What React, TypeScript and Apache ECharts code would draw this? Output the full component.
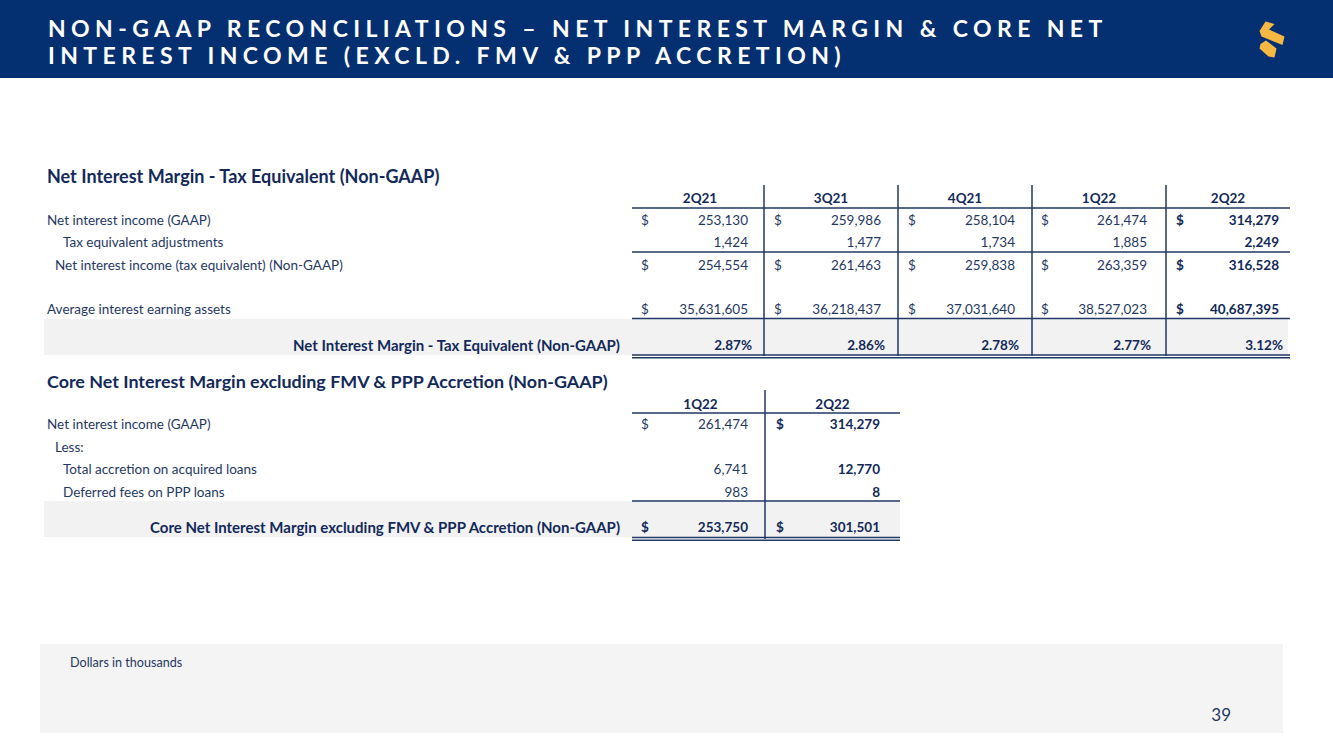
import React, { useEffect, useRef } from "react";
import * as echarts from "echarts";

const titleLines = [
  "NON-GAAP RECONCILIATIONS \u2013 NET INTEREST MARGIN & CORE NET",
  "INTEREST INCOME (EXCLD. FMV & PPP ACCRETION)",
];

const table1Title = "Net Interest Margin - Tax Equivalent (Non-GAAP)";
const quarters1 = ["2Q21", "3Q21", "4Q21", "1Q22", "2Q22"];
const netInterestIncome = [253130, 259986, 258104, 261474, 314279];
const taxEqAdj = [1424, 1477, 1734, 1885, 2249];
const netInterestIncomeTE = [254554, 261463, 259838, 263359, 316528];
const avgEarningAssets = [35631605, 36218437, 37031640, 38527023, 40687395];
const nimTE = [2.87, 2.86, 2.78, 2.77, 3.12];

const table2Title = "Core Net Interest Margin excluding FMV & PPP Accretion (Non-GAAP)";
const quarters2 = ["1Q22", "2Q22"];
const coreNII = [261474, 314279];
const accretion = [6741, 12770];
const pppFees = [983, 8];
const coreNIM = [253750, 301501];

const footnote = "Dollars in thousands";
const pageNumber = "39";

const NAVY = "#1F3864";
const DARK = "#12295A";
const BAND = "#042F70";
const GRAY = "#F2F2F2";
const FONT = "Lato, 'Open Sans', sans-serif";

const fmt = (v: number) => v.toLocaleString("en-US");

function txt(text: string, x: number, y: number, opts: any = {}) {
  const align = opts.align || "left";
  return {
    type: "text",
    x,
    y,
    silent: true,
    style: {
      text,
      fill: opts.fill || NAVY,
      fontSize: opts.size || 13.5,
      fontFamily: opts.family || FONT,
      fontWeight: opts.bold ? "bold" : "normal",
      align,
      textAlign: align,
      verticalAlign: "middle",
      textVerticalAlign: "middle",
    },
  };
}

function hline(x1: number, x2: number, y: number, w = 1.5) {
  return {
    type: "line",
    silent: true,
    shape: { x1, y1: y, x2, y2: y },
    style: { stroke: NAVY, lineWidth: w },
  };
}
function vline(x: number, y1: number, y2: number, w = 1.5) {
  return {
    type: "line",
    silent: true,
    shape: { x1: x, y1, x2: x, y2 },
    style: { stroke: NAVY, lineWidth: w },
  };
}

function buildGraphic() {
  const g: any[] = [];
  // header band
  g.push({ type: "rect", silent: true, shape: { x: 0, y: 0, width: 1333, height: 78 }, style: { fill: BAND } });
  titleLines.forEach((t, i) => {
    g.push(txt(t, 48, 28 + i * 27, { fill: "#fffffe", size: 23, bold: true, family: "Lato, sans-serif" }));
  });
  // logo
  g.push({
    type: "polygon",
    silent: true,
    shape: { points: [[1265.5, 21.5], [1274.5, 24], [1269, 29.5], [1284.5, 36.5], [1282.5, 45], [1261.5, 36.5], [1259.5, 31]] },
    style: { fill: "#F5B843" },
  });
  g.push({
    type: "polygon",
    silent: true,
    shape: { points: [[1260.5, 44], [1266, 40.5], [1276.5, 48.5], [1274.5, 57.5], [1268.5, 56.5], [1259.5, 48.5]] },
    style: { fill: "#F5B843" },
  });

  // ---------- Table 1 ----------
  const c1 = [636, 764, 898, 1032, 1166, 1290];
  const dollarX1 = [641, 774, 908, 1041, 1176];
  const rightX1 = [748, 881, 1015, 1147, 1279];

  g.push(txt(table1Title, 47, 176, { fill: DARK, size: 18, bold: true }));
  // gray band
  g.push({ type: "rect", silent: true, shape: { x: 44, y: 319, width: 1244, height: 36 }, style: { fill: GRAY } });

  quarters1.forEach((q, i) => {
    g.push(txt(q, (c1[i] + c1[i + 1]) / 2, 198, { fill: DARK, bold: true, align: "center" }));
  });
  g.push(hline(632, 1290, 208));
  g.push(hline(632, 1290, 252));
  g.push(hline(632, 1290, 318.5));
  g.push(hline(632, 1290, 355, 1.5));
  g.push(hline(632, 1290, 357.8, 1.5));
  for (let i = 1; i < 5; i++) g.push(vline(c1[i], 185, 356));

  const rows1: { label: string; lx: number; y: number; vals: number[]; dollar: boolean }[] = [
    { label: "Net interest income (GAAP)", lx: 47, y: 220, vals: netInterestIncome, dollar: true },
    { label: "Tax equivalent adjustments", lx: 63, y: 242, vals: taxEqAdj, dollar: false },
    { label: "Net interest income (tax equivalent) (Non-GAAP)", lx: 55, y: 265, vals: netInterestIncomeTE, dollar: true },
    { label: "Average interest earning assets", lx: 47, y: 309, vals: avgEarningAssets, dollar: true },
  ];
  rows1.forEach((r) => {
    g.push(txt(r.label, r.lx, r.y));
    r.vals.forEach((v, i) => {
      const bold = i === 4;
      if (r.dollar) g.push(txt("$", dollarX1[i], r.y, { bold, fill: bold ? DARK : NAVY }));
      g.push(txt(fmt(v), rightX1[i], r.y, { align: "right", bold, fill: bold ? DARK : NAVY }));
    });
  });
  g.push(txt("Net Interest Margin - Tax Equivalent (Non-GAAP)", 620, 345, { align: "right", bold: true, fill: DARK, size: 15 }));
  nimTE.forEach((v, i) => {
    g.push(txt(v.toFixed(2) + "%", rightX1[i] + 4, 345, { align: "right", bold: true, fill: DARK }));
  });

  // ---------- Table 2 ----------
  const c2 = [636, 765, 900];
  const dollarX2 = [641, 776];
  const rightX2 = [748, 880];
  g.push(txt(table2Title, 47, 381, { fill: DARK, size: 17.9, bold: true }));
  g.push({ type: "rect", silent: true, shape: { x: 44, y: 501, width: 856, height: 36 }, style: { fill: GRAY } });
  quarters2.forEach((q, i) => {
    g.push(txt(q, (c2[i] + c2[i + 1]) / 2, 404, { fill: DARK, bold: true, align: "center" }));
  });
  g.push(hline(632, 900, 413));
  g.push(hline(632, 900, 501));
  g.push(hline(632, 900, 537.5, 1.5));
  g.push(hline(632, 900, 540.3, 1.5));
  g.push(vline(765, 390, 539));

  const rows2: { label: string; lx: number; y: number; vals: number[] | null; dollar: boolean }[] = [
    { label: "Net interest income (GAAP)", lx: 47, y: 424, vals: coreNII, dollar: true },
    { label: "Less:", lx: 55, y: 447, vals: null, dollar: false },
    { label: "Total accretion on acquired loans", lx: 63, y: 469, vals: accretion, dollar: false },
    { label: "Deferred fees on PPP loans", lx: 63, y: 492, vals: pppFees, dollar: false },
  ];
  rows2.forEach((r) => {
    g.push(txt(r.label, r.lx, r.y));
    if (!r.vals) return;
    r.vals.forEach((v, i) => {
      const bold = i === 1;
      if (r.dollar) g.push(txt("$", dollarX2[i], r.y, { bold, fill: bold ? DARK : NAVY }));
      g.push(txt(fmt(v), rightX2[i], r.y, { align: "right", bold, fill: bold ? DARK : NAVY }));
    });
  });
  g.push(txt(table2Title, 620, 527, { align: "right", bold: true, fill: DARK, size: 15 }));
  coreNIM.forEach((v, i) => {
    g.push(txt("$", dollarX2[i], 527, { bold: true, fill: DARK }));
    g.push(txt(fmt(v), rightX2[i], 527, { align: "right", bold: true, fill: DARK }));
  });

  // ---------- Footer ----------
  g.push({ type: "rect", silent: true, shape: { x: 40, y: 644, width: 1243, height: 89 }, style: { fill: "#F4F4F4" } });
  g.push(txt(footnote, 70, 662, { size: 12.6 }));
  g.push(txt(pageNumber, 1231, 714, { size: 17, align: "right" }));
  return g;
}

export default function App() {
  const ref = useRef<HTMLDivElement>(null);
  useEffect(() => {
    if (!ref.current) return;
    const chart = echarts.init(ref.current, undefined, { renderer: "svg" });
    chart.setOption({
      animation: false,
      backgroundColor: "#ffffff",
      graphic: { elements: buildGraphic() },
    });
    return () => chart.dispose();
  }, []);
  return (
    <>
      <style>{`body{margin:0;} #slide text[fill="#fffffe"]{letter-spacing:5.4px;}`}</style>
      <div
        id="slide"
        ref={ref}
        style={{ position: "fixed", left: 0, top: 0, width: 1333, height: 749 }}
      />
    </>
  );
}
